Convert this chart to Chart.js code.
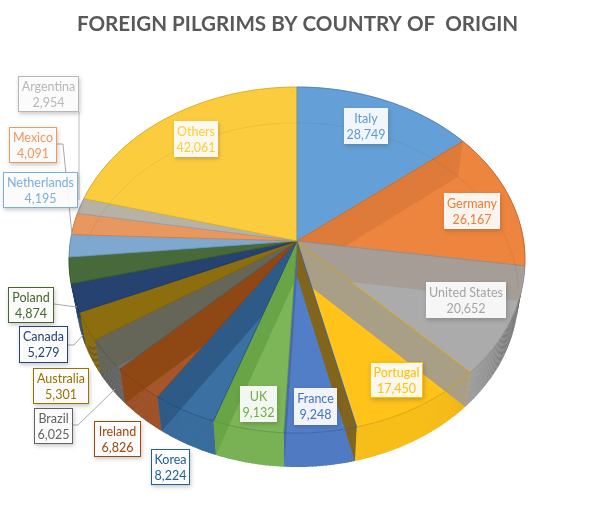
<!DOCTYPE html>
<html>
<head>
<meta charset="utf-8">
<style>
  html, body { margin: 0; padding: 0; background: #fff; }
  canvas { display: block; }
</style>
<script src="https://cdn.jsdelivr.net/npm/chart.js@4/dist/chart.umd.min.js"></script>
</head>
<body>
<canvas id="pilgrims" width="595" height="516"></canvas>
<script>
const countries = ['Italy', 'Germany', 'United States', 'Portugal', 'France', 'UK', 'Korea', 'Ireland',
    'Brazil', 'Australia', 'Canada', 'Poland', 'Netherlands', 'Mexico', 'Argentina', 'Others'];
const pilgrims = [28749, 26167, 20652, 17450, 9248, 9132, 8224, 6826, 6025, 5301, 5279, 4874, 4195, 4091, 2954, 42061];

// series colour, used for text and borders
const seriesColors = ['#5B9BD5', '#ED7D31', '#A5A5A5', '#FFC000', '#4472C4', '#70AD47', '#255E91', '#9E480E',
    '#636363', '#997300', '#264478', '#43682B', '#7CAFDD', '#F1975A', '#B7B7B7', '#FFCD33'];
// top face colours (series colour seen through the glass effect)
const topColors = ['#64A0D7', '#EE853E', '#ABABAB', '#FFC31A', '#527EC8', '#7DB658', '#3A70A2', '#A5562A',
    '#707070', '#9A7810', '#2A4A78', '#4A6C38', '#7EA8CF', '#E8975F', '#B6B2A6', '#FBCD3E'];
// wall seen through the top, one per slice boundary (boundary after slice i)
const wallColors = ['#DE7A3A', '#A69D96', '#A89F86', '#82641A', '#4669B0', '#69A546', '#2D5A86', '#8F4714',
    '#656558', '#8C6E0F', '#264270', '#48693A', '#7EA8CF', '#E8975F', '#B6B2A6', null];

// hand placed data labels, same order as countries: x, y, w, h
const labelBoxes = [[344, 108, 44, 36], [444, 193, 56, 36], [426, 282, 80, 36], [370, 362, 53, 36],
    [294, 388, 43, 37], [240, 386, 37, 36], [151, 449, 39, 36], [94, 421, 47, 36],
    [34, 408, 39, 36], [33, 368, 56, 36], [19, 326, 49, 37], [8, 287, 46, 36],
    [3, 172, 75, 36], [9, 127, 48, 36], [18, 76, 61, 36], [174, 121, 44, 36]];
const borderedLabels = ['Portugal', 'Korea', 'Ireland', 'Brazil', 'Australia', 'Canada', 'Poland', 'Netherlands', 'Mexico', 'Argentina'];
const leaderLines = [
    { color: '#BDBDBD', pts: [[79, 112], [79, 200]] },
    { color: '#A8A8A8', pts: [[57, 144], [63, 144], [72, 235]] },
    { color: '#A8A8A8', pts: [[54, 304], [77, 307]] },
    { color: '#A8A8A8', pts: [[68, 345], [74, 345], [83, 335]] },
    { color: '#A8A8A8', pts: [[73, 425], [78, 425], [115, 389]] }
];

// perspective of the tilted disc, top face and bottom face
const cx = 297, tilt = 0.11;
const topFace = { a: 226.6, b: 170.9, y0: 241 };
const bottomFace = { a: 220, b: 170, y0: 276 };

function project(theta, r, face) {
    const X = r * Math.sin(theta), Y = r * Math.cos(theta);
    const w = 1 + tilt * Y;
    return [cx + face.a * X / w, face.y0 - face.b * Y / w];
}

function rimPoints(a0, a1, face) {
    const n = Math.max(2, Math.ceil((a1 - a0) / 0.01));
    const pts = [];
    for (let i = 0; i <= n; i++) pts.push(project(a0 + (a1 - a0) * i / n, 1, face));
    return pts;
}

function tracePoly(ctx, pts) {
    ctx.beginPath();
    pts.forEach((p, i) => i ? ctx.lineTo(p[0], p[1]) : ctx.moveTo(p[0], p[1]));
    ctx.closePath();
}

function shade(hex, f) {
    const n = parseInt(hex.slice(1), 16);
    const c = [n >> 16, (n >> 8) & 255, n & 255].map(v => Math.round(v * f));
    return `rgb(${c[0]},${c[1]},${c[2]})`;
}

const pie3d = {
    id: 'pie3d',
    beforeDatasetsDraw(chart) {
        const ctx = chart.ctx;
        // slice angles come from the pie controller, clockwise from 12 o'clock
        const slices = chart.getDatasetMeta(0).data.map(arc => ({
            a0: arc.startAngle + Math.PI / 2,
            a1: arc.endAngle + Math.PI / 2
        }));
        const topPoly = s => [project(0, 0, topFace)].concat(rimPoints(s.a0, s.a1, topFace));
        const sidePoly = s => rimPoints(s.a0, s.a1, topFace).concat(rimPoints(s.a0, s.a1, bottomFace).reverse());

        // outer wall, darker towards the silhouette
        slices.forEach((s, i) => {
            const steps = Math.ceil((s.a1 - s.a0) / 0.015);
            for (let k = 0; k < steps; k++) {
                const a = s.a0 + (s.a1 - s.a0) * k / steps;
                const b = s.a0 + (s.a1 - s.a0) * (k + 1) / steps;
                const t = Math.abs(Math.sin((a + b) / 2));
                ctx.fillStyle = shade(topColors[i], 0.97 * (1 - 0.68 * Math.pow(t, 8)));
                const p = [project(a, 1, topFace), project(b + 0.004, 1, topFace),
                    project(b + 0.004, 1, bottomFace), project(a, 1, bottomFace)];
                tracePoly(ctx, p);
                ctx.fill();
            }
        });

        // top faces
        slices.forEach((s, i) => {
            ctx.fillStyle = topColors[i];
            ctx.strokeStyle = topColors[i];
            ctx.lineWidth = 0.5;
            tracePoly(ctx, topPoly(s));
            ctx.fill();
            ctx.stroke();
        });

        // radial walls seen through the top
        slices.forEach((s, i) => {
            if (!wallColors[i]) return;
            const wall = [project(0, 0, topFace), project(s.a1, 1, topFace),
                project(s.a1, 1, bottomFace), project(0, 0, bottomFace)];
            const target = s.a1 < Math.PI ? (i + 1) % slices.length : i;
            const ts = slices[target];
            const mid = (ts.a0 + ts.a1) / 2;
            const clips = [topPoly(ts)];
            if (mid > 1.7 && mid < 4.65) clips.push(sidePoly(ts));
            clips.forEach(clipPts => {
                ctx.save();
                tracePoly(ctx, clipPts);
                ctx.clip();
                ctx.fillStyle = wallColors[i];
                tracePoly(ctx, wall);
                ctx.fill();
                ctx.restore();
            });
        });

        // bottom rim faintly visible through the back of the disc
        ctx.strokeStyle = 'rgba(90,70,40,0.10)';
        ctx.lineWidth = 1;
        ctx.beginPath();
        rimPoints(-1.35, 1.65, bottomFace).forEach((p, i) => i ? ctx.lineTo(p[0], p[1]) : ctx.moveTo(p[0], p[1]));
        ctx.stroke();

        // slice edges
        slices.forEach((s, i) => {
            ctx.strokeStyle = shade(seriesColors[i], 0.82);
            ctx.lineWidth = 0.8;
            ctx.beginPath();
            topPoly(s).forEach((p, k) => k ? ctx.lineTo(p[0], p[1]) : ctx.moveTo(p[0], p[1]));
            ctx.stroke();
        });
        return false;
    },
    afterDraw(chart) {
        const ctx = chart.ctx;
        leaderLines.forEach(l => {
            ctx.strokeStyle = l.color;
            ctx.lineWidth = 1;
            ctx.beginPath();
            l.pts.forEach((p, i) => i ? ctx.lineTo(p[0], p[1]) : ctx.moveTo(p[0], p[1]));
            ctx.stroke();
        });

        ctx.font = '12.5px Lato';
        ctx.textAlign = 'center';
        ctx.textBaseline = 'middle';
        countries.forEach((name, i) => {
            const [x, y, w, h] = labelBoxes[i];
            ctx.save();
            ctx.shadowColor = 'rgba(60,60,60,0.3)';
            ctx.shadowBlur = 4;
            ctx.shadowOffsetX = 1;
            ctx.shadowOffsetY = 2;
            ctx.fillStyle = 'rgba(255,255,255,0.92)';
            ctx.fillRect(x, y, w, h);
            ctx.restore();
            if (borderedLabels.includes(name)) {
                ctx.strokeStyle = seriesColors[i];
                ctx.lineWidth = 1;
                ctx.strokeRect(x + 0.5, y + 0.5, w - 1, h - 1);
            }
            ctx.fillStyle = seriesColors[i];
            ctx.fillText(name, x + w / 2, y + 11);
            ctx.fillText(pilgrims[i].toLocaleString('en-US'), x + w / 2, y + 27);
        });
    }
};

new Chart(document.getElementById('pilgrims'), {
    type: 'pie',
    data: {
        labels: countries,
        datasets: [{ data: pilgrims, backgroundColor: seriesColors, borderWidth: 0 }]
    },
    options: {
        responsive: false,
        devicePixelRatio: 1,
        animation: false,
        plugins: {
            legend: { display: false },
            tooltip: { enabled: false },
            title: {
                display: true,
                text: 'FOREIGN PILGRIMS BY COUNTRY OF  ORIGIN',
                color: '#595959',
                font: { family: 'Lato', size: 20.6, weight: 'bold' },
                padding: { top: 12, bottom: 10 }
            }
        }
    },
    plugins: [pie3d]
});
</script>
</body>
</html>
